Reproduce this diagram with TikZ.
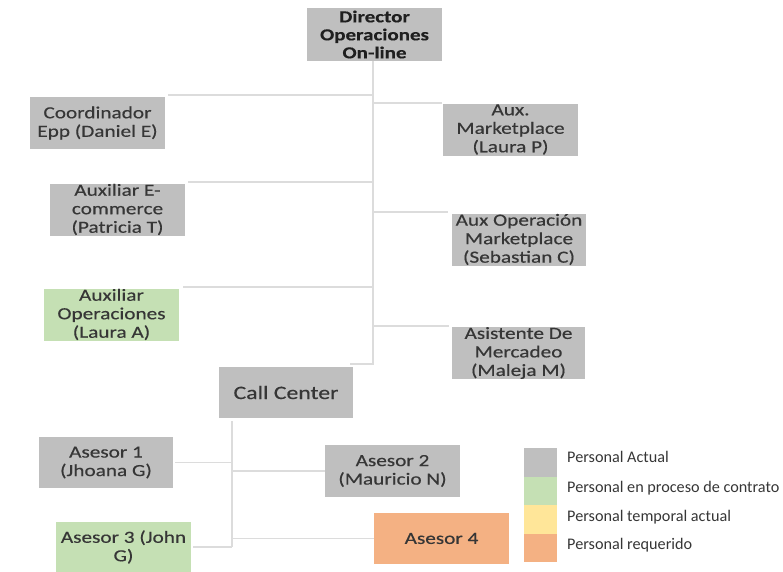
\documentclass[tikz,border=0pt]{standalone}
\usepackage{fontspec}
\setmainfont{Carlito}
\newfontfamily\boxfont{Carlito}[FakeStretch=1.25,FakeBold=0.4]

\definecolor{cGray}{HTML}{BFBFBF}
\definecolor{cGreen}{HTML}{C5E0B4}
\definecolor{cYellow}{HTML}{FFE699}
\definecolor{cOrange}{HTML}{F4B183}
\definecolor{lineGray}{HTML}{DCDCDC}
\definecolor{txtGray}{HTML}{363636}

\begin{document}
\begin{tikzpicture}[x=1pt,y=-1pt,
  box/.style={minimum width=135pt, minimum height=52pt, inner sep=0pt,
    align=center, text=txtGray, font=\boxfont\fontsize{17}{18.5}\selectfont},
  staff/.style={box, fill=cGray},
  hire/.style={box, fill=cGreen},
  need/.style={box, fill=cOrange},
  link/.style={draw=lineGray, line width=1.8pt},
  swatch/.style={minimum width=33pt, minimum height=28.5pt, inner sep=0pt},
  legtext/.style={anchor=base west, inner sep=0pt, text=txtGray,
    font=\fontsize{16.2}{18}\selectfont}]
\useasboundingbox (0,0) rectangle (783,571);

% ---- boxes ----
\node[staff, minimum height=53pt, text=black!88,
      font=\boxfont\bfseries\fontsize{16.8}{18}\selectfont]
      (dir) at (374.5,34.5) {Director\\Operaciones\\On-line};

\node[staff] (coord) at (97.5,123)   {Coordinador\\Epp (Daniel E)};
\node[staff] (ecom)  at (117.5,209.5){Auxiliar E-\\commerce\\(Patricia T)};
\node[hire]  (oper)  at (111.5,314.5){Auxiliar\\Operaciones\\(Laura A)};

\node[staff] (mkt)   at (510.5,129.5){Aux.\\Marketplace\\(Laura P)};
\node[staff, minimum width=134pt] (auxop) at (519,239.5){Aux Operación\\Marketplace\\(Sebastian C)};
\node[staff, minimum width=133pt] (asist) at (518.5,353) {Asistente De\\Mercadeo\\(Maleja M)};

\node[staff, minimum width=134pt, minimum height=51pt,
      font=\boxfont\fontsize{19}{20}\selectfont] (call) at (286,392.5) {Call Center};

\node[staff, minimum width=134pt, minimum height=51pt] (a1) at (106,462.5)  {Asesor 1\\(Jhoana G)};
\node[staff] (a2) at (392.5,471)  {Asesor 2\\(Mauricio N)};
\node[hire, minimum height=51pt]  (a3) at (123.5,547) {Asesor 3 (John\\G)};
\node[need, minimum height=51pt]  (a4) at (441.5,538.5) {Asesor 4};

% ---- connectors from the director ----
\coordinate (spine) at (373,61);
\draw[link] (spine) |- ([xshift=-3pt,yshift=3pt]call.north east);

\path ([xshift=3pt,yshift=2pt]coord.north east) coordinate (l1)
      ([xshift=3pt,yshift=1pt]ecom.north east)  coordinate (l2)
      ([xshift=4pt,yshift=1pt]oper.north east)  coordinate (l3)
      ([xshift=-1pt]mkt.north west)             coordinate (r1)
      ([xshift=-4pt,yshift=1pt]auxop.north west) coordinate (r2)
      ([xshift=-3pt,yshift=1pt]asist.north west) coordinate (r3);
\draw[link] (l1) -- (l1 -| spine);
\draw[link] (l2) -- (l2 -| spine);
\draw[link] (l3) -- (l3 -| spine);
\draw[link] (r1 -| spine) -- (r1);
\draw[link] (r2 -| spine) -- (r2);
\draw[link] (r3 -| spine) -- (r3);

% ---- connectors from the call center ----
\coordinate (cspine) at (232,421);
\draw[link] (cspine) -- (cspine |- a3.east);
\draw[link] ([xshift=2pt]a1.east) -- (cspine |- a1.east);
\draw[link] ([xshift=2pt]a3.east) -- (cspine |- a3.east);
\draw[link] (cspine |- a2.west) -- (a2.west);
\draw[link] (cspine |- a4.west) -- (a4.west);

% ---- legend ----
\node[swatch, fill=cGray]   (k1) at (540.5,462.25) {};
\node[swatch, fill=cGreen]  (k2) at (540.5,490.75) {};
\node[swatch, fill=cYellow] (k3) at (540.5,519.25) {};
\node[swatch, fill=cOrange] (k4) at (540.5,547.75) {};
\node[legtext] (t1) at (567,462) {Personal Actual};
\node[legtext] (t2) at (567,492) {Personal en proceso de contrato};
\node[legtext] (t3) at (567,521) {Personal temporal actual};
\node[legtext] (t4) at (567,549) {Personal requerido};
\end{tikzpicture}
\end{document}
